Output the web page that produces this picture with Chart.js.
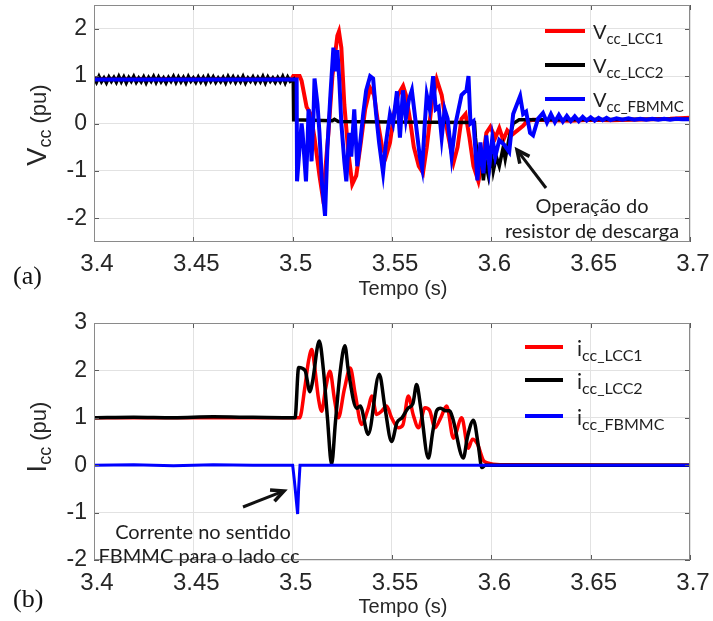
<!DOCTYPE html>
<html><head><meta charset="utf-8">
<script src="https://cdn.jsdelivr.net/npm/chart.js@4.4.0/dist/chart.umd.min.js"></script>
<style>
html,body{margin:0;padding:0;background:#fff;}
#wrap{position:relative;width:713px;height:621px;overflow:hidden;font-family:"Liberation Sans",Arial,sans-serif;background:#fff;}
canvas{position:absolute;left:0;}
.t{position:absolute;white-space:nowrap;color:#1e1e1e;line-height:1;}
.cal{font-family:Lato,"Open Sans",sans-serif;}
.legline{position:absolute;height:4px;}
.ytitle{position:absolute;white-space:nowrap;line-height:1;color:#262626;transform:translate(-50%,-50%) rotate(-90deg);font-family:"Liberation Sans",Arial,sans-serif;}
.xtitle{position:absolute;white-space:nowrap;line-height:1;color:#262626;transform:translate(-50%,-50%);font-family:"Liberation Sans",Arial,sans-serif;font-size:20px;}
svg{position:absolute;left:0;top:0;}
</style></head><body><div id="wrap">
<canvas id="cV" width="713" height="300" style="top:0;width:713px;height:300px"></canvas>
<canvas id="cI" width="713" height="321" style="top:300px;width:713px;height:321px"></canvas>
<svg id="arr" width="713" height="621"></svg>
</div>
<script>
// ---- axis ticks ----
const xTicks=[3.4,3.45,3.5,3.55,3.6,3.65,3.7];
const xTickLabels=['3.4','3.45','3.5','3.55','3.6','3.65','3.7'];
const vTicks=[-2,-1,0,1,2];
const vTickLabels=['-2','-1','0','1','2'];
const iTicks=[-2,-1,0,1,2,3];
const iTickLabels=['-2','-1','0','1','2','3'];
const xTitle='Tempo (s)';

// ---- series names ----
const vLegendSub=['cc_LCC1','cc_LCC2','cc_FBMMC'];
const iLegendSub=['cc_LCC1','cc_LCC2','cc_FBMMC'];

// ---- (a) Vcc ----
const vLcc1T=[3.4,3.45,3.4995,3.5003,3.5035,3.5045,3.507,3.509,3.511,3.5135,3.5148,3.516,3.518,3.52,3.5225,3.5233,3.5245,3.526,3.528,3.53,3.532,3.534,3.5365,3.539,3.541,3.543,3.545,3.547,3.549,3.551,3.553,3.5556,3.557,3.559,3.561,3.5635,3.5656,3.5675,3.57,3.5725,3.575,3.578,3.581,3.583,3.585,3.587,3.589,3.591,3.5935,3.5955,3.5975,3.5995,3.602,3.604,3.606,3.608,3.61,3.613,3.616,3.618,3.621,3.63,3.64,3.65,3.66,3.67,3.68,3.69,3.7];
const vLcc1V=[0.94,0.94,0.94,1.0,1.0,0.9,0.35,0.2,-0.3,-1.1,-1.46,-1.2,-0.2,1.0,1.85,1.94,1.6,0.4,-0.6,-1.28,-1.1,-0.5,0.3,0.75,0.6,0.0,-0.5,-0.69,-0.4,0.2,0.6,0.79,0.6,0.1,-0.5,-0.9,-1.04,-0.5,0.4,0.93,0.6,-0.2,-0.82,-0.5,0.1,0.2,-0.3,-0.9,-1.22,-0.8,-0.2,-0.07,-0.3,-0.1,-0.35,-0.15,-0.25,-0.15,-0.05,0.05,0.08,0.07,0.06,0.08,0.07,0.08,0.09,0.1,0.12];

const vLcc2T=[3.4,3.40125,3.4025,3.40375,3.405,3.40625,3.4075,3.40875,3.41,3.41125,3.4125,3.41375,3.415,3.41625,3.4175,3.41875,3.42,3.42125,3.4225,3.42375,3.425,3.42625,3.4275,3.42875,3.43,3.43125,3.4325,3.43375,3.435,3.43625,3.4375,3.43875,3.44,3.44125,3.4425,3.44375,3.445,3.44625,3.4475,3.44875,3.45,3.45125,3.4525,3.45375,3.455,3.45625,3.4575,3.45875,3.46,3.46125,3.4625,3.46375,3.465,3.46625,3.4675,3.46875,3.47,3.47125,3.4725,3.47375,3.475,3.47625,3.4775,3.47875,3.48,3.48125,3.4825,3.48375,3.485,3.48625,3.4875,3.48875,3.49,3.49125,3.4925,3.49375,3.495,3.49625,3.4975,3.49875,3.5003,3.5005,3.52,3.521,3.523,3.55,3.5915,3.592,3.5935,3.595,3.596,3.597,3.5985,3.6,3.601,3.6025,3.604,3.606,3.607,3.609,3.611,3.614,3.7];
const vLcc2V=[0.97,0.87,0.99,0.88,0.96,0.86,0.98,0.89,0.97,0.87,0.99,0.88,0.98,0.86,0.97,0.89,0.99,0.87,0.96,0.88,
0.98,0.86,0.97,0.89,0.99,0.87,0.98,0.88,0.96,0.86,0.97,0.89,0.99,0.87,0.98,0.88,0.97,0.86,0.99,0.89,
0.96,0.87,0.98,0.88,0.97,0.86,0.99,0.89,0.98,0.87,0.96,0.88,0.97,0.86,0.99,0.89,0.98,0.87,0.97,0.88,
0.99,0.86,0.96,0.89,0.98,0.87,0.97,0.88,0.99,0.86,0.98,0.89,0.96,0.87,0.97,0.88,0.99,0.86,0.98,0.89,
0.93,0.08,0.06,0.09,0.04,0.03,0.02,-0.3,-0.9,-0.7,-1.2,-0.8,-1.1,-0.6,-1.0,-0.7,-0.9,-0.5,-0.75,-0.3,0.0,0.08,0.09];

const vFbT=[3.4,3.45,3.502,3.5022,3.5035,3.5045,3.505,3.5067,3.5075,3.508,3.509,3.5095,3.5105,3.511,3.5125,3.5135,3.5148,3.5163,3.5175,3.519,3.5205,3.5215,3.5225,3.5235,3.5245,3.526,3.527,3.5285,3.5295,3.531,3.5325,3.534,3.5355,3.537,3.539,3.5405,3.542,3.5435,3.5455,3.547,3.549,3.5505,3.5525,3.554,3.5555,3.557,3.5585,3.56,3.562,3.564,3.5652,3.5665,3.5675,3.569,3.5707,3.572,3.5735,3.575,3.5765,3.578,3.58,3.582,3.585,3.5875,3.5885,3.5895,3.591,3.593,3.5945,3.596,3.5975,3.599,3.6005,3.602,3.604,3.6065,3.609,3.611,3.6145,3.616,3.6175,3.6195,3.621,3.6235,3.626,3.628,3.63,3.632,3.634,3.636,3.638,3.64,3.642,3.644,3.646,3.648,3.65,3.652,3.654,3.656,3.658,3.66,3.663,3.666,3.669,3.672,3.675,3.678,3.681,3.684,3.687,3.69,3.693,3.696,3.7];
const vFbV=[0.93,0.93,0.93,-1.22,-0.5,0.0,-0.2,-1.22,-0.4,0.3,-0.2,-0.8,0.2,0.95,0.4,-0.2,-1.3,-1.95,-0.5,0.6,1.6,1.1,1.55,0.9,0.0,-0.8,-1.22,-0.2,-0.7,0.3,-0.9,-0.4,0.2,0.7,1.0,0.95,0.2,-0.4,-1.04,-0.4,0.2,0.0,0.68,-0.3,0.7,0.1,0.5,0.7,0.0,-0.7,-0.95,0.0,0.6,0.3,1.0,0.3,0.35,-0.3,0.3,0.1,-0.7,0.0,0.6,0.7,1.0,0.0,0.05,-1.2,-0.4,-1.05,-0.25,-0.9,-0.3,-0.7,-0.35,-0.45,-0.6,0.2,0.58,0.2,0.25,-0.2,-0.25,0.1,0.22,0.02,0.2,0.03,0.18,0.04,0.16,0.05,0.15,0.05,0.14,0.06,0.13,0.06,0.12,0.07,0.12,0.07,0.11,0.08,0.11,0.08,0.1,0.08,0.1,0.08,0.1,0.08,0.1,0.09,0.09];

// ---- (b) Icc ----
const iLcc1T=[3.4,3.45,3.5035,3.506,3.508,3.5096,3.511,3.513,3.5146,3.5165,3.5188,3.521,3.523,3.526,3.529,3.5315,3.5347,3.5381,3.5398,3.5423,3.5448,3.5473,3.5498,3.5532,3.5555,3.5582,3.5607,3.5633,3.5666,3.569,3.5716,3.5745,3.5775,3.5809,3.5851,3.5884,3.5905,3.593,3.596,3.598,3.6044,3.7];
const iLcc1V=[1.0,1.0,1.0,1.6,2.2,2.44,2.1,1.4,1.14,1.6,1.98,1.4,1.0,1.6,2.05,1.5,0.86,1.21,1.46,1.07,1.14,1.25,1.0,0.79,0.85,1.46,1.06,0.79,1.21,1.15,0.79,1.0,1.25,0.57,1.0,0.36,0.55,0.45,0.1,0.05,0.01,0.0];

const iLcc2T=[3.4,3.42,3.44,3.46,3.48,3.5012,3.503,3.5062,3.5087,3.51,3.5134,3.5155,3.5175,3.5196,3.5215,3.524,3.5263,3.528,3.5322,3.534,3.538,3.5436,3.5465,3.5498,3.5525,3.555,3.558,3.5605,3.5624,3.5645,3.5683,3.5705,3.5725,3.5745,3.577,3.579,3.5805,3.5859,3.588,3.591,3.5935,3.5952,3.597,3.7];
const iLcc2V=[1.0,1.01,1.0,1.02,1.01,1.0,2.06,2.0,1.55,1.76,2.62,2.0,1.0,0.02,0.9,2.0,2.52,2.0,1.2,1.25,0.65,1.92,1.2,0.5,0.9,1.0,1.2,1.3,1.7,1.2,0.15,0.7,1.15,1.2,1.15,1.15,1.0,0.15,0.6,0.95,0.4,-0.05,0.0,0.0];

const iFbT=[3.4,3.42,3.44,3.46,3.48,3.5,3.5008,3.5025,3.503,3.5037,3.55,3.6,3.7];
const iFbV=[0.0,0.01,-0.01,0.01,0.0,0.0,-0.3,-1.03,-0.5,0.0,0.0,0.0,0.0];

const RED='rgb(255,0,0)', BLACK='rgb(0,0,0)', BLUE='rgb(0,0,255)';
const TXT='#262626';

function pts(T,V){const n=Math.min(T.length,V.length);const a=[];for(let i=0;i<n;i++)a.push({x:T[i],y:V[i]});return a;}

const framePlugin={
  id:'frame',
  afterDraw(chart){
    const {ctx,chartArea:a,scales}=chart;
    ctx.save();
    ctx.strokeStyle='#5a5a5a';ctx.lineWidth=1;
    scales.x.ticks.forEach(t=>{const p=Math.round(scales.x.getPixelForValue(t.value))+0.5;
      ctx.beginPath();ctx.moveTo(p,a.top);ctx.lineTo(p,a.top+5);ctx.moveTo(p,a.bottom);ctx.lineTo(p,a.bottom-5);ctx.stroke();});
    scales.y.ticks.forEach(t=>{const p=Math.round(scales.y.getPixelForValue(t.value))+0.5;
      ctx.beginPath();ctx.moveTo(a.left,p);ctx.lineTo(a.left+5,p);ctx.moveTo(a.right,p);ctx.lineTo(a.right-5,p);ctx.stroke();});
    ctx.strokeStyle='#8a8a8a';
    ctx.strokeRect(Math.round(a.left)+0.5,Math.round(a.top)+0.5,Math.round(a.width)-1,Math.round(a.height)-1);
    ctx.restore();
  }
};

function makeChart(id,datasets,yMin,yMax,yTicks,yLabels,padTop,canvasH,chartBottom,xPad){
  return new Chart(document.getElementById(id),{
    type:'line',
    data:{datasets},
    plugins:[framePlugin],
    options:{
      responsive:false,animation:false,
      layout:{padding:{left:0,right:23,top:padTop,bottom:0}},
      plugins:{legend:{display:false},tooltip:{enabled:false}},
      elements:{point:{radius:0},line:{tension:0}},
      scales:{
        x:{type:'linear',min:3.4,max:3.7,
          afterBuildTicks:s=>{s.ticks=xTicks.map(v=>({value:v}));},
          afterFit:s=>{s.height=canvasH-chartBottom;s.paddingLeft=0;s.paddingRight=0;},
          grid:{color:'#e2e2e2',drawTicks:false,lineWidth:1},
          border:{display:false},
          ticks:{autoSkip:false,maxRotation:0,minRotation:0,padding:xPad,labelOffset:3,color:TXT,
            font:{family:'"Liberation Sans", Arial, sans-serif',size:24},
            callback:(v,i)=>xTickLabels[i]},
          title:{display:false}
        },
        y:{min:yMin,max:yMax,
          afterBuildTicks:s=>{s.ticks=yTicks.map(v=>({value:v}));},
          afterFit:s=>{s.width=94;s.paddingTop=0;s.paddingBottom=0;},
          grid:{color:'#e2e2e2',drawTicks:false,lineWidth:1},
          border:{display:false},
          ticks:{padding:7,color:TXT,
            font:{family:'"Liberation Sans", Arial, sans-serif',size:23},
            callback:(v,i)=>yLabels[i]}
        }
      }
    }
  });
}

// order: lower number is drawn on top
makeChart('cV',[
  {label:'Vcc_LCC1',data:pts(vLcc1T,vLcc1V),borderColor:RED,borderWidth:4,fill:false,order:3},
  {label:'Vcc_LCC2',data:pts(vLcc2T,vLcc2V),borderColor:BLACK,borderWidth:3.5,fill:false,order:2},
  {label:'Vcc_FBMMC',data:pts(vFbT,vFbV),borderColor:BLUE,borderWidth:4,fill:false,order:1}
],-2.5,2.5,vTicks,vTickLabels,5,300,242,8);

makeChart('cI',[
  {label:'icc_LCC1',data:pts(iLcc1T,iLcc1V),borderColor:RED,borderWidth:3.5,fill:false,order:3,cubicInterpolationMode:'monotone'},
  {label:'icc_LCC2',data:pts(iLcc2T,iLcc2V),borderColor:BLACK,borderWidth:3.5,fill:false,order:2,cubicInterpolationMode:'monotone'},
  {label:'icc_FBMMC',data:pts(iFbT,iFbV),borderColor:BLUE,borderWidth:3,fill:false,order:1}
],-2,3,iTicks,iTickLabels,23,321,260,9);

// ---- overlay text ----
const wrap=document.getElementById('wrap');
function addDiv(html,cls,style){const d=document.createElement('div');d.className=cls;d.style.cssText=style;d.innerHTML=html;wrap.appendChild(d);return d;}

addDiv(xTitle,'xtitle','left:403px;top:288px');
addDiv(xTitle,'xtitle','left:403px;top:606px');

const colors=[RED,BLACK,BLUE];
// legend (a)
const vLegY=[31,65,99];
vLegendSub.forEach((s,i)=>{
  addDiv('','legline',`left:545px;width:40px;top:${vLegY[i]-2}px;background:${colors[i]}`);
  addDiv(`V<span style="font-size:15px;position:relative;top:5px">${s}</span>`,'t cal',`left:593px;top:${vLegY[i]-10}px;font-size:20px`);
});
// legend (b)
const iLegY=[347,380,416];
iLegendSub.forEach((s,i)=>{
  addDiv('','legline',`left:525px;width:38px;top:${iLegY[i]-2}px;background:${colors[i]}`);
  addDiv(`i<span style="font-size:16px;position:relative;top:5px">${s}</span>`,'t cal',`left:577px;top:${iLegY[i]-10}px;font-size:21px`);
});

// y titles
addDiv('<span style="font-size:27px">V</span><span style="font-size:18px;position:relative;top:5px">cc</span><span style="font-size:22px"> (pu)</span>','ytitle','left:37px;top:125px');
addDiv('<span style="font-size:27px">I</span><span style="font-size:18px;position:relative;top:5px">cc</span><span style="font-size:22px"> (pu)</span>','ytitle','left:37px;top:437px');

// panel labels
addDiv('(a)','t','left:13px;top:263px;font-size:26px;font-family:"Liberation Serif","Times New Roman",serif;color:#111');
addDiv('(b)','t','left:13px;top:586px;font-size:26px;font-family:"Liberation Serif","Times New Roman",serif;color:#111');

// annotations
addDiv('Operação do','t cal','left:592px;top:195px;font-size:20px;transform:translateX(-50%)');
addDiv('resistor de descarga','t cal','left:592px;top:220px;font-size:20px;transform:translateX(-50%)');
addDiv('Corrente no sentido','t cal','left:203px;top:521px;font-size:20px;transform:translateX(-50%)');
addDiv('FBMMC para o lado cc','t cal','left:199px;top:545px;font-size:20px;transform:translateX(-50%)');

// arrows
const svg=document.getElementById('arr');
function arrow(x1,y1,x2,y2){
  const ns='http://www.w3.org/2000/svg';
  const dx=x2-x1,dy=y2-y1,L=Math.hypot(dx,dy),ux=dx/L,uy=dy/L;
  const line=document.createElementNS(ns,'line');
  line.setAttribute('x1',x1);line.setAttribute('y1',y1);line.setAttribute('x2',x2-ux*4);line.setAttribute('y2',y2-uy*4);
  line.setAttribute('stroke','#111');line.setAttribute('stroke-width','3');svg.appendChild(line);
  const a=0.45,h=14;
  const bx=-ux,by=-uy;
  const p1=[x2+h*(bx*Math.cos(a)-by*Math.sin(a)),y2+h*(bx*Math.sin(a)+by*Math.cos(a))];
  const p2=[x2+h*(bx*Math.cos(-a)-by*Math.sin(-a)),y2+h*(bx*Math.sin(-a)+by*Math.cos(-a))];
  const pl=document.createElementNS(ns,'polyline');
  pl.setAttribute('points',`${p1[0]},${p1[1]} ${x2},${y2} ${p2[0]},${p2[1]}`);
  pl.setAttribute('fill','none');pl.setAttribute('stroke','#111');pl.setAttribute('stroke-width','3.5');
  pl.setAttribute('stroke-linejoin','miter');svg.appendChild(pl);
}
arrow(546,188,517,150);
arrow(243,507,284,491);
</script>
</body></html>
